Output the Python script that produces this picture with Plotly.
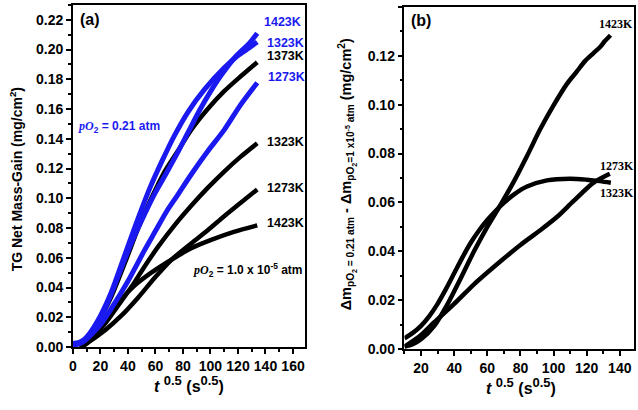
import plotly.graph_objects as go

BLUE = "rgb(26,26,240)"
BLACK = "black"

# ---------------- Panel (a): TG net mass gain ----------------
# pO2 = 0.21 atm (blue)
a_blue1423_x = [0, 4, 8, 12, 20, 28, 36, 43, 53, 60, 68, 76, 84, 92, 100, 108, 119, 128, 134]
a_blue1423_y = [0.002, 0.0025, 0.004, 0.008, 0.019, 0.036, 0.055, 0.071, 0.091, 0.104, 0.117,
                0.1305, 0.1448, 0.159, 0.1717, 0.183, 0.196, 0.204, 0.211]
a_blue1323_x = [0, 4, 8, 12, 20, 28, 37, 46, 56, 65, 74, 84, 96, 110, 120, 128, 134]
a_blue1323_y = [0.0025, 0.003, 0.005, 0.009, 0.021, 0.037, 0.060, 0.083, 0.107, 0.1255, 0.1425,
                0.1585, 0.1735, 0.1877, 0.196, 0.201, 0.205]
a_blue1273_x = [0, 4, 8, 13, 20, 28, 40, 52, 60, 68, 76, 86, 98, 110, 122, 134]
a_blue1273_y = [0.0015, 0.002, 0.004, 0.008, 0.015, 0.026, 0.0443, 0.065, 0.078, 0.091, 0.102,
                0.116, 0.1316, 0.146, 0.163, 0.1777]
# pO2 = 1.0 x 10^-5 atm (black)
a_black1373_x = [5, 10, 18, 28, 38, 47.5, 57, 66.7, 76.4, 86, 98, 110, 122, 134]
a_black1373_y = [0, 0.005, 0.016, 0.034, 0.057, 0.080, 0.100, 0.118, 0.132, 0.146, 0.160, 0.172,
                 0.182, 0.1915]
a_black1323_x = [6.5, 13.8, 23.4, 33, 43, 52, 62, 74, 86, 98, 110, 122, 134]
a_black1323_y = [0, 0.006, 0.0158, 0.028, 0.041, 0.054, 0.0675, 0.082, 0.095, 0.107, 0.118, 0.128, 0.137]
a_black1273_x = [6.5, 13.7, 23.4, 35.4, 47.5, 59.5, 71.6, 86, 98, 110, 122, 134]
a_black1273_y = [0, 0.0048, 0.0114, 0.0213, 0.0334, 0.0466, 0.0587, 0.0697, 0.0785, 0.088, 0.097, 0.106]
a_black1423_x = [6.5, 16, 25.8, 35.4, 45, 57, 71.6, 86, 100.5, 117, 134]
a_black1423_y = [0.0015, 0.009, 0.0202, 0.0323, 0.0415, 0.050, 0.0587, 0.0664, 0.072, 0.0774, 0.0818]

# ---------------- Panel (b): difference ----------------
b_1423_x = [10, 15, 20, 28, 36, 44, 52, 60, 68, 76, 84, 92, 100, 108, 114, 119, 124, 128, 131, 134.4]
b_1423_y = [0.001, 0.002, 0.004, 0.0095, 0.0184, 0.029, 0.040, 0.050, 0.059, 0.0685, 0.079, 0.090,
            0.0997, 0.1084, 0.1135, 0.1178, 0.121, 0.1235, 0.126, 0.1284]
b_1323_x = [10, 15, 20, 25, 30, 35, 40, 45, 50, 55, 60, 65, 70, 76, 84, 96, 110, 120, 128, 134.6]
b_1323_y = [0.0044, 0.0066, 0.0095, 0.0135, 0.0185, 0.0245, 0.031, 0.0375, 0.0435, 0.0485, 0.0528,
            0.0565, 0.0598, 0.0632, 0.0665, 0.069, 0.0697, 0.0693, 0.0687, 0.068]
b_1273_x = [10, 20, 28, 40, 52, 68, 80, 92, 102, 112, 124, 134]
b_1273_y = [0.001, 0.0058, 0.011, 0.0185, 0.0265, 0.0359, 0.0426, 0.0486, 0.054, 0.0605, 0.068, 0.0717]

# labels
a_label_text = ["1423K", "1323K", "1373K", "1273K", "1323K", "1273K", "1423K"]
a_label_color = [BLUE, BLUE, BLACK, BLUE, BLACK, BLACK, BLACK]
a_label_x = [137.5, 140, 139.7, 140.5, 139.7, 140, 139.7]
a_label_y = [0.2187, 0.2046, 0.1958, 0.1813, 0.138, 0.1071, 0.0834]
b_label_text = ["1423K", "1273K", "1323K"]
b_label_x = [126.2, 126.6, 126.6]
b_label_y = [0.1329, 0.0747, 0.064]

fig = go.Figure()


def add(x, y, color, width, xa, ya):
    fig.add_trace(go.Scatter(x=x, y=y, mode="lines",
                             line=dict(color=color, width=width, shape="spline", smoothing=0.8),
                             xaxis=xa, yaxis=ya, showlegend=False, hoverinfo="skip"))


# black first, blue on top
for xs, ys in [(a_black1373_x, a_black1373_y), (a_black1323_x, a_black1323_y),
               (a_black1273_x, a_black1273_y), (a_black1423_x, a_black1423_y)]:
    add(xs, ys, BLACK, 4.5, "x", "y")
for xs, ys in [(a_blue1273_x, a_blue1273_y), (a_blue1323_x, a_blue1323_y),
               (a_blue1423_x, a_blue1423_y)]:
    add(xs, ys, BLUE, 5, "x", "y")
for xs, ys in [(b_1273_x, b_1273_y), (b_1323_x, b_1323_y), (b_1423_x, b_1423_y)]:
    add(xs, ys, BLACK, 4.5, "x2", "y2")

W, H = 638, 410
tickfont = dict(family="Liberation Sans, Arial", size=14, color="black", weight="bold")
common = dict(showline=True, linecolor="black", linewidth=1.5, mirror=True, ticks="outside",
              ticklen=5, tickwidth=1.5, tickcolor="black", showgrid=False, zeroline=False,
              tickfont=tickfont)


def minor(d):
    return dict(ticks="outside", ticklen=3, tickwidth=1.5, tickcolor="black", showgrid=False, dtick=d)


fig.update_layout(
    width=W, height=H, margin=dict(l=0, r=0, t=0, b=0),
    paper_bgcolor="white", plot_bgcolor="white", showlegend=False,
    xaxis=dict(domain=[69.3 / W, 303.3 / W], range=[0, 169], tick0=0, dtick=20,
               minor=minor(10), anchor="y", **common),
    yaxis=dict(domain=[1 - 354 / H, 1 - 5 / H], range=[0, 0.23], tick0=0, dtick=0.02,
               tickformat=".2f", minor=minor(0.01), anchor="x", **common),
    xaxis2=dict(domain=[403 / W, 634 / W], range=[10, 148.6], tick0=0, dtick=20,
                minor=dict(ticks="outside", ticklen=3, tickwidth=1.5, tickcolor="black",
                           showgrid=False, tick0=10, dtick=10),
                anchor="y2", **common),
    yaxis2=dict(domain=[1 - 356 / H, 1 - 7 / H], range=[0, 0.14], tick0=0, dtick=0.02,
                tickformat=".2f", minor=minor(0.01), anchor="x2", **common),
)

ann = []
sans = "Liberation Sans, Arial"
serif = "Liberation Serif, Times New Roman"
for t, c, x, y in zip(a_label_text, a_label_color, a_label_x, a_label_y):
    ann.append(dict(text=t, x=x, y=y, xref="x", yref="y", xanchor="left", yanchor="middle",
                    showarrow=False, font=dict(family=sans, size=12.5, color=c, weight="bold")))
for t, x, y in zip(b_label_text, b_label_x, b_label_y):
    ann.append(dict(text=t, x=x, y=y, xref="x2", yref="y2", xanchor="left", yanchor="middle",
                    showarrow=False, font=dict(family=serif, size=12, color="black", weight="bold")))

ann.append(dict(text="(a)", x=4, y=0.2205, xref="x", yref="y", xanchor="left", yanchor="middle",
                showarrow=False, font=dict(family=sans, size=16, color="black", weight="bold")))
ann.append(dict(text="(b)", x=13, y=0.1345, xref="x2", yref="y2", xanchor="left", yanchor="middle",
                showarrow=False, font=dict(family=sans, size=16, color="black", weight="bold")))

po2 = '<span style="font-family:Liberation Serif"><i>pO</i></span><sub>2</sub>'
ann.append(dict(text=po2 + " = 0.21 atm", x=2.5, y=0.148, xref="x", yref="y",
                xanchor="left", yanchor="middle", showarrow=False,
                font=dict(family=sans, size=12, color=BLUE, weight="bold")))
ann.append(dict(text=po2 + " = 1.0 x 10<sup>-5</sup> atm", x=86, y=0.052, xref="x", yref="y",
                xanchor="left", yanchor="middle", showarrow=False,
                font=dict(family=sans, size=12, color="black", weight="bold")))

# axis titles
ann.append(dict(text="TG Net Mass-Gain (mg/cm<sup>2</sup>)", x=13 / W, y=1 - 183 / H,
                xref="paper", yref="paper", textangle=-90, showarrow=False,
                xanchor="center", yanchor="middle",
                font=dict(family=sans, size=14, color="black", weight="bold")))
xt = ("<i>t</i> <sup><span style='font-size:13px'>0.5</span></sup> "
      "(s<sup><span style='font-size:13px'>0.5</span></sup>)")
ann.append(dict(text=xt, x=186 / W, y=1 - 392 / H, xref="paper", yref="paper", showarrow=False,
                xanchor="center", yanchor="middle",
                font=dict(family=sans, size=16, color="black", weight="bold")))
ann.append(dict(text=xt, x=520 / W, y=1 - 394 / H, xref="paper", yref="paper", showarrow=False,
                xanchor="center", yanchor="middle",
                font=dict(family=sans, size=16, color="black", weight="bold")))
yt2 = ("Δm<sub>pO<sub>2</sub> = 0.21 atm</sub> - Δm<sub>pO<sub>2</sub>=1 x10<sup>-5</sup> atm</sub>"
       " (mg/cm<sup>2</sup>)")
ann.append(dict(text=yt2, x=345 / W, y=1 - 178 / H, xref="paper", yref="paper", textangle=-90,
                showarrow=False, xanchor="center", yanchor="middle",
                font=dict(family=sans, size=14.5, color="black", weight="bold")))

fig.update_layout(annotations=ann)
fig.write_html("out.html", config={"displayModeBar": False},
               post_script="document.body.style.margin='0';document.body.style.overflow='hidden';")
